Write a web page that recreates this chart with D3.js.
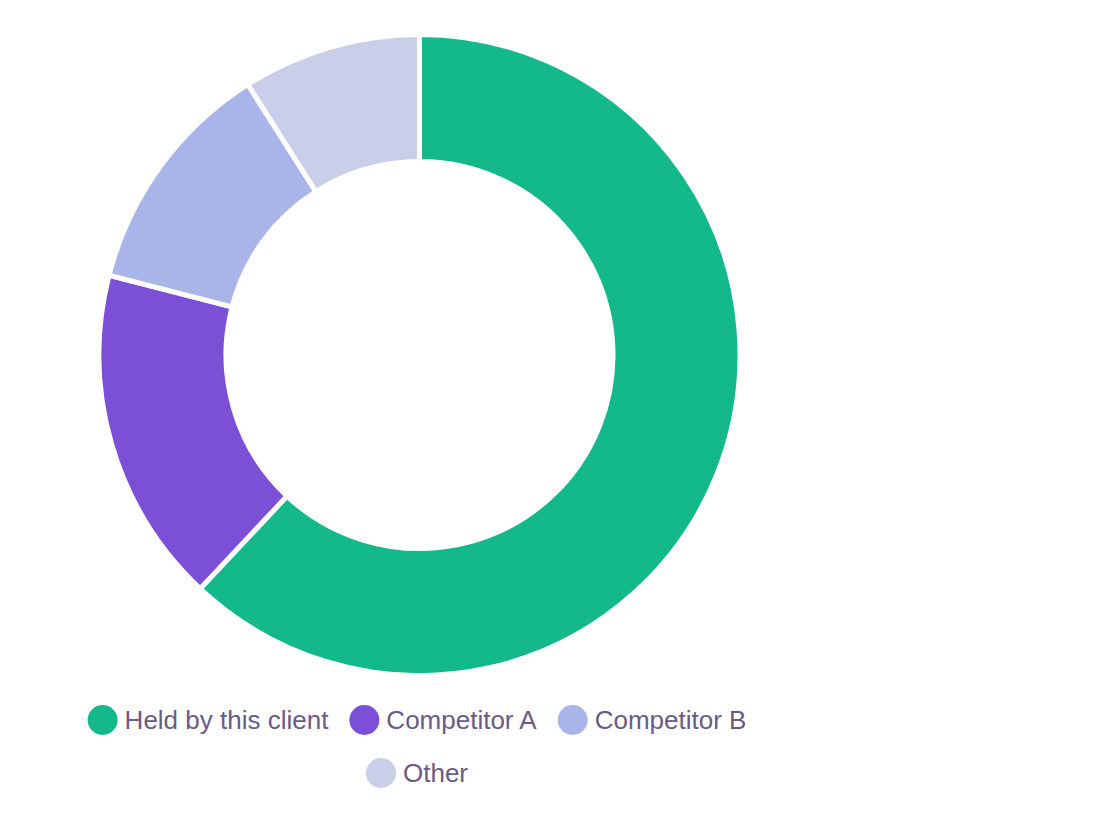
<!DOCTYPE html>
<html>
<head>
<meta charset="utf-8">
<script src="https://cdn.jsdelivr.net/npm/d3@7/dist/d3.min.js"></script>
<style>
  html, body { margin: 0; padding: 0; background: #ffffff; }
  svg { display: block; }
</style>
</head>
<body>
<svg id="chart" width="1120" height="840"></svg>
<script>
const categories = ["Held by this client", "Competitor A", "Competitor B", "Other"];
const values = [62, 17, 12, 9];
const colors = ["#13b98a", "#7b4fd6", "#a9b5e8", "#c9cee9"];

const svg = d3.select("#chart");
const cx = 419.5, cy = 355;
const outerR = 320.5, innerR = 193.5;
const FONT = "'Liberation Sans', Arial, sans-serif";

const data = categories.map((c, i) => ({ name: c, value: values[i], color: colors[i] }));

const pie = d3.pie().value(d => d.value).sort(null);
const arc = d3.arc().innerRadius(innerR).outerRadius(outerR);

const g = svg.append("g").attr("transform", `translate(${cx},${cy})`);
g.selectAll("path")
  .data(pie(data))
  .join("path")
  .attr("d", arc)
  .attr("fill", d => d.data.color)
  .attr("stroke", "#ffffff")
  .attr("stroke-width", 5)
  .attr("stroke-linejoin", "miter");

// Legend
const fontSize = 26;
const dotR = 15;
const dotGap = 7;
const itemGap = 21;
const rows = [[0, 1, 2], [3]];
const rowY = [720, 773];
const legendCenter = 417;

const legend = svg.append("g");
const measure = svg.append("text")
  .attr("font-family", FONT)
  .attr("font-size", fontSize)
  .attr("visibility", "hidden");

function textWidth(t) {
  measure.text(t);
  return measure.node().getComputedTextLength();
}

rows.forEach((row, ri) => {
  const widths = row.map(i => dotR * 2 + dotGap + textWidth(categories[i]));
  const total = d3.sum(widths) + itemGap * (row.length - 1);
  let x = legendCenter - total / 2;
  row.forEach((i, k) => {
    const item = legend.append("g").attr("transform", `translate(${x},${rowY[ri]})`);
    item.append("circle")
      .attr("cx", dotR)
      .attr("cy", 0)
      .attr("r", dotR)
      .attr("fill", colors[i]);
    item.append("text")
      .attr("x", dotR * 2 + dotGap)
      .attr("y", 0)
      .attr("dy", "0.35em")
      .attr("font-family", FONT)
      .attr("font-size", fontSize)
      .attr("fill", "#6a5a86")
      .text(categories[i]);
    x += widths[k] + itemGap;
  });
});
measure.remove();
</script>
</body>
</html>
